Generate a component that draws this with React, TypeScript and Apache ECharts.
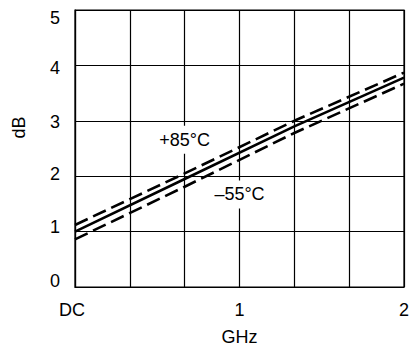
import React, { useEffect, useRef } from "react";
import * as echarts from "echarts";

// frequency points in GHz
const freqGHz = [0, 2 / 3, 4 / 3, 2];
// insertion loss in dB
const plus85 = [1.12, 2.05, 3.0, 3.87];
const typical = [1.0, 1.95, 2.9, 3.78];
const minus55 = [0.86, 1.81, 2.78, 3.67];

const yTicks = [0, 1, 2, 3, 4, 5];
const xTickLabels: Record<number, string> = { 0: "DC", 1: "1", 2: "2" };
const labelPlus = { text: "+85°C", x: 2 / 3, y: 2.66 };
const labelMinus = { text: "\u201355°C", x: 1, y: 1.67 };

const THIRDS = 3; // x-axis is divided into thirds of a GHz
const FONT = "'Liberation Sans', Arial, Helvetica, sans-serif";
const FS = 18;

// vertical offset of y tick labels (px)
const yLabelShift: Record<number, number> = { 5: 7.5, 4: 3, 3: 1, 2: -2, 1: -5, 0: -6.5 };

export default function App() {
  const ref = useRef<HTMLDivElement>(null);
  useEffect(() => {
    if (!ref.current) return;
    const chart = echarts.init(ref.current, undefined, { renderer: "svg" });
    const rich: Record<string, any> = {};
    yTicks.forEach((v) => {
      const s = yLabelShift[v] || 0;
      rich["y" + v] = {
        fontSize: FS,
        fontFamily: FONT,
        color: "#000",
        padding: s > 0 ? [2 * s, 0, 0, 0] : [0, 0, -2 * s, 0],
      };
    });
    const mk = (arr: number[]) => freqGHz.map((f, i) => [f * THIRDS, arr[i]]);
    const dashed = { color: "#000", width: 2.6, type: [14, 6] as any };
    chart.setOption({
      animation: false,
      backgroundColor: "#fff",
      grid: { left: 75, right: 7, top: 10, bottom: 60, outerBoundsMode: "none", show: true, borderColor: "#000", borderWidth: 1.2 },
      xAxis: {
        type: "value",
        min: 0,
        max: 2 * THIRDS,
        interval: 1,
        name: "GHz",
        nameLocation: "middle",
        nameGap: 41,
        nameTextStyle: { fontSize: FS, fontFamily: FONT, color: "#000" },
        axisLine: { show: true, lineStyle: { color: "#000", width: 1.2 } },
        axisTick: { show: false },
        splitLine: { show: true, lineStyle: { color: "#000", width: 1.2 } },
        axisLabel: {
          margin: 14,
          fontSize: FS,
          fontFamily: FONT,
          color: "#000",
          formatter: (v: number) => {
            const g = v / THIRDS;
            const key = Math.round(g);
            if (Math.abs(g - key) < 1e-6 && xTickLabels[key] !== undefined) {
              return key === 0 ? "{dc|DC}" : xTickLabels[key];
            }
            return "";
          },
          rich: { dc: { fontSize: FS, fontFamily: FONT, color: "#000", padding: [0, 6, 0, 0] } },
        },
      },
      yAxis: {
        type: "value",
        min: 0,
        max: 5,
        interval: 1,
        axisLine: { show: true, lineStyle: { color: "#000", width: 1.2 } },
        axisTick: { show: false },
        splitLine: { show: true, lineStyle: { color: "#000", width: 1.2 } },
        axisLabel: {
          margin: 15,
          fontSize: FS,
          fontFamily: FONT,
          color: "#000",
          formatter: (v: number) => `{y${v}|${v}}`,
          rich,
        },
      },
      graphic: [
        {
          type: "text",
          x: 18.5,
          y: 127.5,
          rotation: Math.PI / 2,
          style: { text: "dB", fontSize: FS, fontFamily: FONT, fill: "#000", align: "center", verticalAlign: "middle" },
        },
      ],
      series: [
        {
          type: "line",
          data: mk(plus85),
          symbol: "none",
          lineStyle: dashed,
          z: 3,
          markPoint: {
            symbol: "circle",
            symbolSize: 0,
            silent: true,
            label: {
              show: true,
              position: "inside",
              formatter: labelPlus.text,
              fontSize: FS,
              fontFamily: FONT,
              color: "#000",
              backgroundColor: "#fff",
              padding: [5, 2, 5, 2],
            },
            data: [{ coord: [labelPlus.x * THIRDS, labelPlus.y] }],
          },
        },
        {
          type: "line",
          data: mk(typical),
          symbol: "none",
          lineStyle: { color: "#000", width: 2.6 },
          z: 3,
        },
        {
          type: "line",
          data: mk(minus55),
          symbol: "none",
          lineStyle: dashed,
          z: 3,
          markPoint: {
            symbol: "circle",
            symbolSize: 0,
            silent: true,
            label: {
              show: true,
              position: "inside",
              formatter: labelMinus.text,
              fontSize: FS,
              fontFamily: FONT,
              color: "#000",
              backgroundColor: "#fff",
              padding: [5, 2, 5, 2],
            },
            data: [{ coord: [labelMinus.x * THIRDS, labelMinus.y] }],
          },
        },
      ],
    });
    return () => chart.dispose();
  }, []);
  return <div ref={ref} style={{ position: "fixed", left: 0, top: 0, width: 411, height: 347, background: "#fff" }} />;
}
